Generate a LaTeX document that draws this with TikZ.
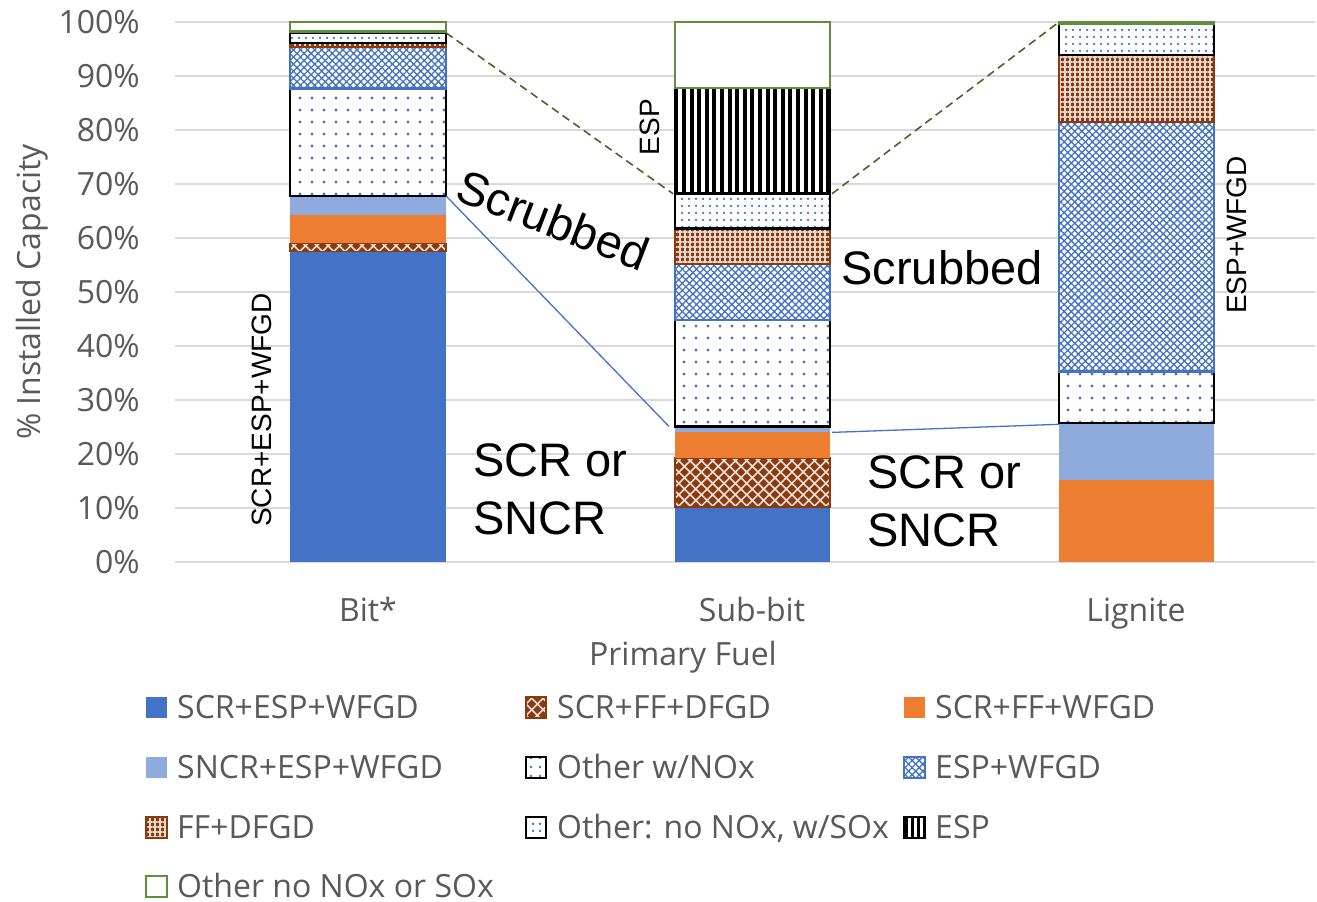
\documentclass[tikz,border=0pt]{standalone}
\usepackage{fontspec}
\setmainfont{Open Sans}
\newfontfamily\arialf{Liberation Sans}
\usetikzlibrary{patterns.meta}
\definecolor{cA}{HTML}{4472C4}
\definecolor{cB}{HTML}{8FAADC}
\definecolor{cO}{HTML}{ED7D31}
\definecolor{cBr}{HTML}{8B3A0E}
\definecolor{cG}{HTML}{5E8F3C}
\definecolor{cDash}{HTML}{4F6228}
\definecolor{cGrid}{HTML}{D9D9D9}
\definecolor{cTxt}{HTML}{595959}
\tikzset{
  sA/.style={fill=cA},
  sB/.style={preaction={fill=cBr}, pattern={Hatch[angle=45,distance=8pt,line width=1.6pt]}, pattern color=white!85!cBr, draw=cBr, line width=1.5pt},
  sC/.style={fill=cO},
  sD/.style={fill=cB},
  sE/.style={preaction={fill=white}, pattern={Dots[distance=12pt,radius=1.6pt]}, pattern color=cA, draw=black, line width=2.5pt},
  sF/.style={preaction={fill=white}, pattern={Hatch[angle=45,distance=5pt,line width=1.3pt]}, pattern color=cA, draw=cA, line width=2.5pt},
  sG/.style={preaction={fill=cBr}, pattern={Hatch[angle=0,distance=5pt,line width=1.3pt]}, pattern color=white!80!cBr, draw=cBr, line width=2.5pt},
  sH/.style={preaction={fill=white}, pattern={Dots[distance=6.5pt,radius=1.4pt]}, pattern color=cA, draw=black, line width=2.5pt},
  sI/.style={preaction={fill=white}, pattern={Lines[angle=90,distance=7.6pt,line width=4pt]}, pattern color=black, draw=black, line width=2.5pt},
  sJ/.style={fill=white, draw=cG, line width=2.5pt},
  gridl/.style={draw=cGrid, line width=1.6pt},
  ticklab/.style={font=\fontsize{32}{38}\selectfont, text=cTxt, inner sep=0pt},
  annot/.style={font=\arialf\fontsize{47}{56}\selectfont, text=black, inner sep=0pt},
  rotlab/.style={font=\arialf\fontsize{28}{34}\selectfont, text=black, inner sep=0pt, rotate=90},
  legtxt/.style={font=\fontsize{32}{38}\selectfont, text=cTxt, inner sep=0pt, anchor=base west},
  dashc/.style={draw=cDash, line width=1.6pt, dash pattern=on 8pt off 5pt},
  bluec/.style={draw=cA, line width=1.3pt},
}
\begin{document}
\begin{tikzpicture}[x=1pt,y=-1pt]
\useasboundingbox (0,0) rectangle (1317,902);
\fill[white] (0,0) rectangle (1317,902);
% gridlines and tick labels
\foreach \k in {0,...,10}{
  \draw[gridl] (175,{562-54*\k}) -- (1315,{562-54*\k});
  \node[ticklab, anchor=east] (t\k) at (140,{562-54*\k}) {\pgfmathtruncatemacro\v{10*\k}\v\%};
}
% bars
\begin{scope}[shift={(0,562)}, y=5.4pt]
 % Bit*
 \path[sA] (290,0) rectangle (446,57.5);
 \path[sB] (290,57.5) rectangle (446,59);
 \path[sC] (290,59) rectangle (446,64.3);
 \path[sD] (290,64.3) rectangle (446,67.8);
 \path[sE] (290,67.8) rectangle (446,87.7);
 \path[sF] (290,87.7) rectangle (446,95.4);
 \path[sG] (290,95.4) rectangle (446,96.1);
 \path[sH] (290,96.1) rectangle (446,98);
 \path[sJ] (290,98.2) rectangle (446,100);
 \coordinate (bitDash) at (446,98);
 \coordinate (bitBlue) at (446,67.8);
 % Sub-bit
 \path[sA] (675,0) rectangle (830,10.2);
 \path[sB] (675,10.2) rectangle (830,19.3);
 \path[sC] (675,19.3) rectangle (830,24);
 \path[sD] (675,24) rectangle (830,25.1);
 \path[sE] (675,25.1) rectangle (830,44.8);
 \path[sF] (675,44.8) rectangle (830,55.2);
 \path[sG] (675,55.2) rectangle (830,61.8);
 \path[sH] (675,61.8) rectangle (830,68.2);
 \path[sI] (675,68.2) rectangle (830,87.8);
 \path[sJ] (675,87.8) rectangle (830,100);
 \coordinate (subDashL) at (673,68.2);
 \coordinate (subDashR) at (832,68.2);
 \coordinate (subBlueL) at (669,25.1);
 \coordinate (subBlueR) at (832,24);
 % Lignite
 \path[sC] (1059,0) rectangle (1214,15.2);
 \path[sD] (1059,15.2) rectangle (1214,25.7);
 \path[sE] (1059,25.7) rectangle (1214,35.3);
 \path[sF] (1059,35.3) rectangle (1214,81.5);
 \path[sG] (1059,81.5) rectangle (1214,93.9);
 \path[sH] (1059,93.9) rectangle (1214,99.6);
 \path[sJ] (1059,99.6) rectangle (1214,100);
 \coordinate (ligDash) at (1059,100);
 \coordinate (ligBlue) at (1059,25.5);
\end{scope}
% connectors
\draw[dashc] (bitDash) -- (subDashL);
\draw[dashc] (subDashR) -- (ligDash);
\draw[bluec] (bitBlue) -- (subBlueL);
\draw[bluec] (subBlueR) -- (ligBlue);
% annotations
\node[annot, rotate=-21] (scr1) at (553,220) {Scrubbed};
\node[annot, anchor=base] (scr2) at (942,284) {Scrubbed};
\node[annot, anchor=base west] (sa1) at (473,476) {SCR or};
\node[annot, anchor=base west] (sa2) at (473,534) {SNCR};
\node[annot, anchor=base west] (sb1) at (867,488) {SCR or};
\node[annot, anchor=base west] (sb2) at (867,546) {SNCR};
\node[rotlab] (r1) at (262,410) {SCR+ESP+WFGD};
\node[rotlab] (r2) at (650,127) {ESP};
\node[rotlab] (r3) at (1237,235) {ESP+WFGD};
% axis labels
\node[ticklab, anchor=base] (c1) at (368,621) {Bit*};
\node[ticklab, anchor=base] (c2) at (752,621) {Sub-bit};
\node[ticklab, anchor=base] (c3) at (1136,621) {Lignite};
\node[ticklab, anchor=base] (xt) at (683,665) {Primary Fuel};
\node[ticklab, rotate=90] (yt) at (32,292) {\% Installed Capacity};
% legend
\path[sA] (146,697) rectangle (167,718);
\node[legtxt] (l1) at (177,718) {SCR+ESP+WFGD};
\path[sB, line width=1.5pt] (526,697) rectangle (546,718);
\node[legtxt] (l2) at (557,718) {SCR+FF+DFGD};
\path[sC] (904,697) rectangle (925,718);
\node[legtxt] (l3) at (935,718) {SCR+FF+WFGD};
\path[sD] (146,757) rectangle (167,778);
\node[legtxt] (l4) at (177,778) {SNCR+ESP+WFGD};
\path[sE, line width=2pt, pattern={Dots[distance=9pt,radius=1.3pt]}] (526,757) rectangle (546,778);
\node[legtxt] (l5) at (557,778) {Other w/NOx};
\path[sF, line width=2pt] (904,757) rectangle (925,778);
\node[legtxt] (l6) at (935,778) {ESP+WFGD};
\path[sG, line width=2pt] (146,817) rectangle (167,838);
\node[legtxt] (l7) at (177,838) {FF+DFGD};
\path[sH, line width=2pt] (526,817) rectangle (546,838);
\node[legtxt] (l8) at (557,838) {Other: no NOx, w/SOx};
\path[sI, line width=2pt, pattern={Lines[angle=90,distance=6pt,line width=3pt]}] (904,817) rectangle (925,838);
\node[legtxt] (l9) at (935,838) {ESP};
\path[sJ, line width=2pt] (146,876) rectangle (167,897);
\node[legtxt] (l10) at (177,897) {Other no NOx or SOx};
\end{tikzpicture}
\end{document}
